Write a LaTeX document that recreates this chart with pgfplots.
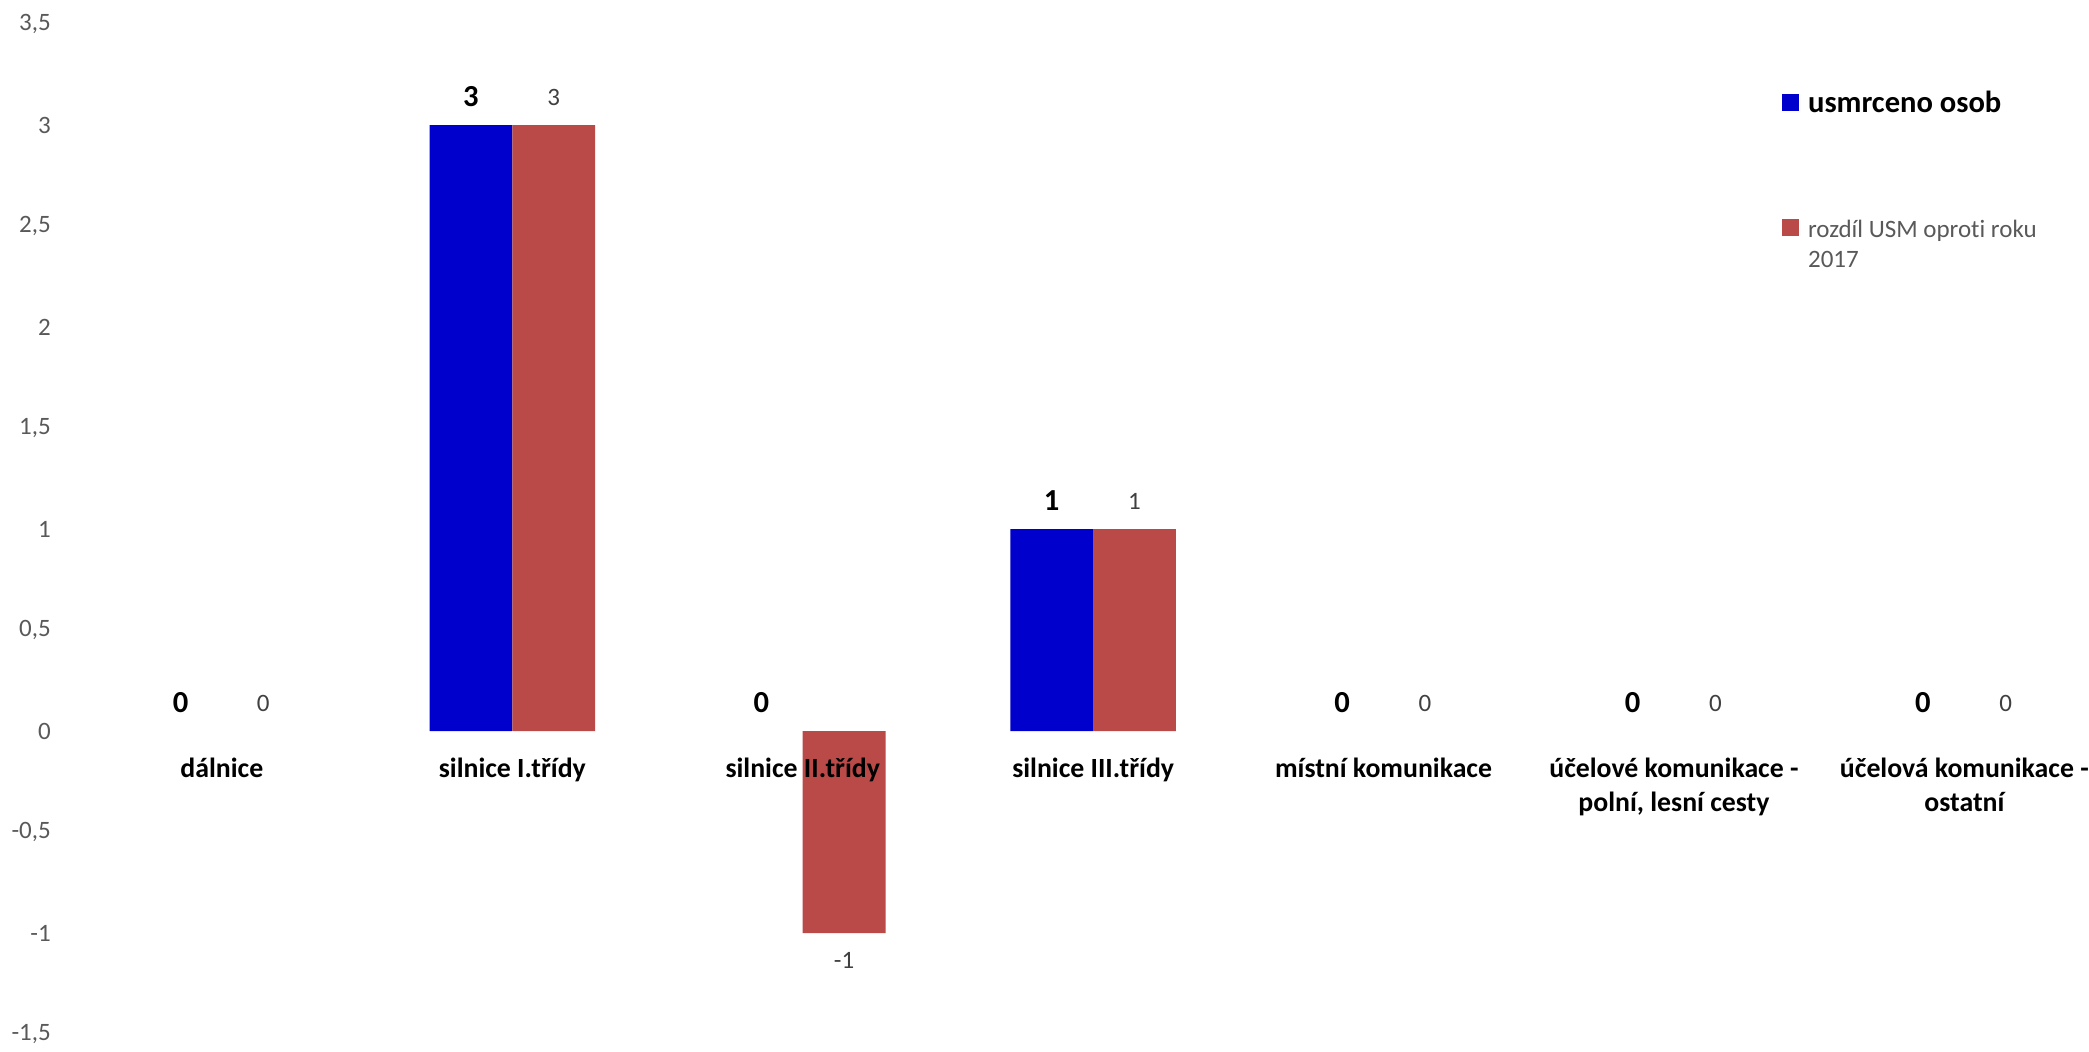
\documentclass[border=0pt]{standalone}
\usepackage{pgfplots}
\pgfplotsset{compat=1.18}
\usepackage{fontspec}
\setmainfont{Carlito}[Ligatures={NoCommon}]
\definecolor{myblue}{RGB}{0,0,204}
\definecolor{myred}{RGB}{185,74,72}
\definecolor{tickgray}{RGB}{89,89,89}
\definecolor{labgray}{RGB}{64,64,64}
\begin{document}
\begin{tikzpicture}
\begin{axis}[
  anchor=origin,
  x=104.5pt, y=72.7pt,
  xmin=-0.5, xmax=6.43, ymin=-1.5, ymax=3.5,
  ybar=0pt, bar width=29.8pt,
  axis x line=middle, axis y line=left,
  axis line style={draw=none},
  major tick length=0pt,
  hide obscured x ticks=false, hide obscured y ticks=false,
  axis on top,
  clip=false,
  /pgf/number format/use comma,
  /pgf/number format/assume math mode=true,
  ytick={-1.5,-1,-0.5,0,0.5,1,1.5,2,2.5,3,3.5},
  yticklabel style={font=\fontsize{9}{11}\selectfont, text=tickgray, xshift=-5.8pt},
  xtick={0,1,2,3,4,5,6},
  xticklabels={dálnice, silnice I.třídy, silnice II.třídy, silnice III.třídy, místní komunikace, {účelové komunikace -\\polní, lesní cesty}, {účelová komunikace -\\ostatní}},
  xticklabel style={font=\fontsize{10}{12.5}\selectfont\bfseries, align=center, yshift=-6pt, text=black},
  legend style={at={(axis cs:5.37,3.171)}, anchor=north west, draw=none, fill=none, inner sep=0pt, row sep=35.6pt, column sep=3.4pt, nodes={inner sep=0pt}},
  legend cell align=left,
]
% series 1: usmrceno osob (labels + legend; zero-height bars not filled)
\addplot[fill=none, draw=none, bar shift=-14.9pt,
  legend image code/.code={\fill[myblue] (0pt,-2.6pt) rectangle (6pt,3.4pt);},
  nodes near coords,
  nodes near coords style={font=\fontsize{11}{13}\selectfont\bfseries, text=black, inner ysep=6.5pt}]
  coordinates {(0,0) (1,3) (2,0) (3,1) (4,0) (5,0) (6,0)};
\addlegendentry{\fontsize{11}{13}\selectfont\bfseries usmrceno osob}
% series 2: rozdil USM oproti roku 2017
\addplot[fill=none, draw=none, bar shift=14.9pt,
  legend image code/.code={\fill[myred] (0pt,-2.6pt) rectangle (6pt,3.4pt);},
  nodes near coords,
  nodes near coords style={font=\fontsize{9}{11}\selectfont, text=labgray, inner ysep=6.8pt}]
  coordinates {(0,0) (1,3) (2,-1) (3,1) (4,0) (5,0) (6,0)};
\addlegendentry{\fontsize{9}{11}\selectfont\color{tickgray}\begin{tabular}[t]{@{}l@{}}rozdíl USM oproti roku\\2017\end{tabular}}
% filled bars (non-zero values only)
\addplot[fill=myblue, draw=none, bar shift=-14.9pt, forget plot]
  coordinates {(1,3) (3,1)};
\addplot[fill=myred, draw=none, bar shift=14.9pt, forget plot]
  coordinates {(1,3) (2,-1) (3,1)};
\end{axis}
\pgfresetboundingbox
\path[use as bounding box] (-79.85pt,-115.16pt) rectangle (671.85pt,263.1pt);
\end{tikzpicture}
\end{document}
